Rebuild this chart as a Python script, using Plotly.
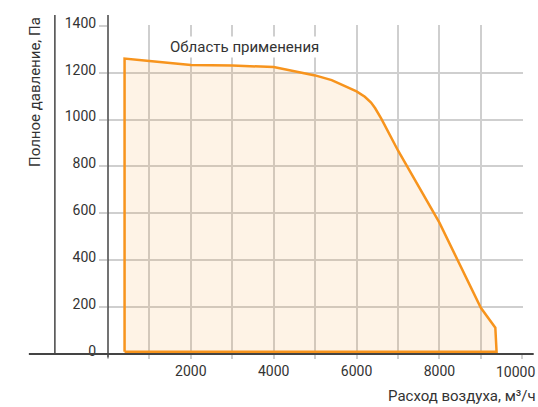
import plotly.graph_objects as go

# Data
flow = [400, 400, 1000, 2000, 3000, 4000, 5000, 5400, 6000, 6200, 6350, 6450, 6600, 7000, 8000, 9000, 9350, 9380, 400]
pressure = [10, 1260, 1249, 1232, 1230, 1224, 1188, 1168, 1120, 1097, 1072, 1048, 1003, 868, 560, 197, 112, 10, 10]

x_ticks = [0, 1000, 2000, 3000, 4000, 5000, 6000, 7000, 8000, 9000, 10000]
x_ticktext = ["", "", "2000", "", "4000", "", "6000", "", "8000", "", ""]
x_last_label = "10000"
y_ticks = [0, 200, 400, 600, 800, 1000, 1200, 1400]

area_label = "Область применения"
x_title = "Расход воздуха, м³/ч"
y_title = "Полное давление, Па"

ORANGE = "#f7941d"
FILL = "rgba(247,148,29,0.11)"
GRID = "#cfcfcf"
DARK = "#444444"
TEXT = "#333333"
FONT = "Roboto"

fig = go.Figure()
fig.add_trace(go.Scatter(
    x=flow, y=pressure, mode="lines", fill="toself",
    fillcolor=FILL, line=dict(color=ORANGE, width=2.5),
    hoverinfo="skip", showlegend=False,
))

fig.update_layout(
    width=538, height=407,
    margin=dict(l=108, r=15, t=24.5, b=52.5),
    paper_bgcolor="white", plot_bgcolor="white",
    font=dict(family=FONT, size=14, color=TEXT),
    showlegend=False,
)
fig.update_xaxes(
    range=[0, 10018], tickvals=x_ticks, ticktext=x_ticktext,
    showgrid=True, gridcolor=GRID, gridwidth=1.5,
    ticks="outside", ticklen=4, tickcolor=GRID, tickwidth=1.5,
    showline=False, zeroline=False, automargin=False,
    tickfont=dict(family=FONT, size=14, color=TEXT),
)
fig.update_yaxes(
    range=[0, 1403], tickvals=y_ticks,
    showgrid=True, gridcolor=GRID, gridwidth=1.5,
    ticks="outside", ticklen=8, tickcolor=GRID, tickwidth=1.5,
    showline=False, zeroline=False, automargin=False, ticklabelshift=-3,
    tickfont=dict(family=FONT, size=14, color=TEXT),
)

# last x tick label, nudged so it stays inside the page
fig.add_annotation(x=x_ticks[-1], y=0, xref="x", yref="paper", text=x_last_label, showarrow=False,
                   xanchor="center", yanchor="top", xshift=-7, yshift=-8,
                   font=dict(family=FONT, size=14, color=TEXT))

# axis frame lines (dark) extending beyond plot area like the reference
fig.add_shape(type="line", xref="paper", yref="paper", x0=-0.1907, x1=1.0258, y0=0, y1=0,
              line=dict(color=DARK, width=2), layer="above")
fig.add_shape(type="line", xref="paper", yref="paper", x0=0, x1=0, y0=-0.0106, y1=1.0303,
              line=dict(color=DARK, width=1.5), layer="above")
fig.add_shape(type="line", xref="paper", yref="paper", x0=-0.128, x1=-0.128, y0=0, y1=1.0303,
              line=dict(color=DARK, width=1.5), layer="above")

fig.add_annotation(x=3295, y=1309, xref="x", yref="y", text=area_label, showarrow=False,
                   bgcolor="white", font=dict(family=FONT, size=15, color=TEXT))
fig.add_annotation(x=1.0355, y=-0.129, xref="paper", yref="paper", text=x_title, showarrow=False,
                   xanchor="right", yanchor="middle", font=dict(family=FONT, size=15, color=TEXT))
fig.add_annotation(x=-0.176, y=1.0303, xref="paper", yref="paper", text=y_title, showarrow=False,
                   textangle=-90, xanchor="center", yanchor="top", font=dict(family=FONT, size=15, color=TEXT))

fig.write_html("out.html")
